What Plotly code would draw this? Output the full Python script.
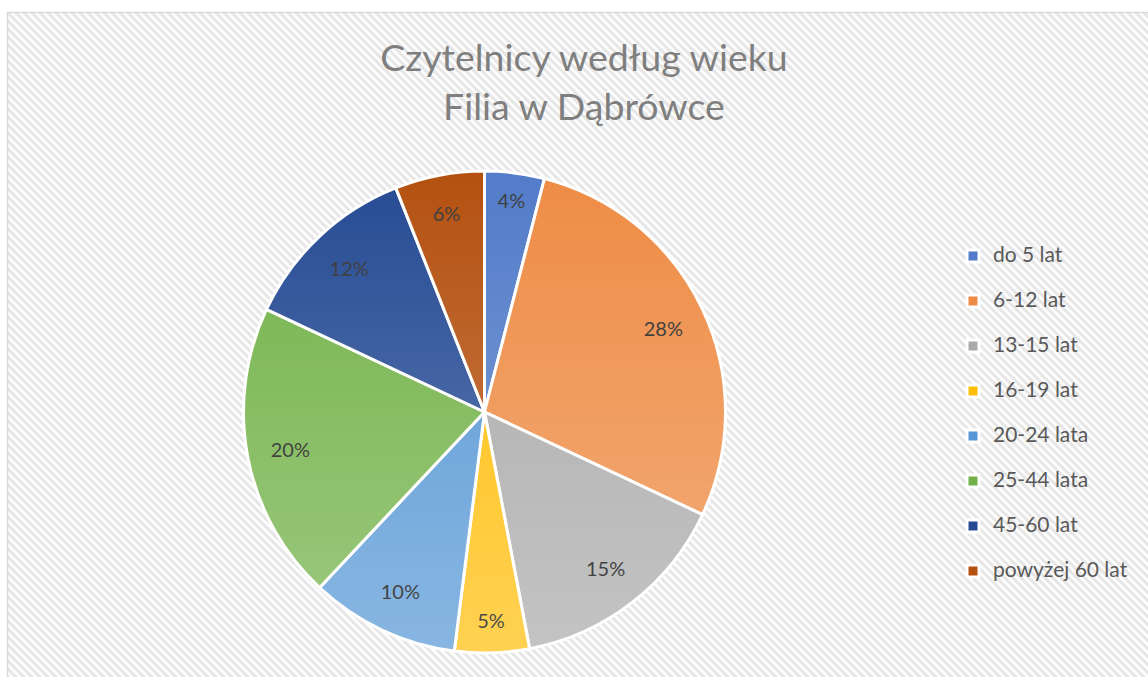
import base64
import plotly.graph_objects as go

# ---- data ----
categories = ["do 5 lat", "6-12 lat", "13-15 lat", "16-19 lat",
              "20-24 lata", "25-44 lata", "45-60 lat", "powyżej 60 lat"]
shares = [4, 28, 15, 5, 10, 20, 12, 6]
title_lines = ["Czytelnicy według wieku", "Filia w Dąbrówce"]

# ---- styles ----
slice_colors = ["#527CC9", "#EE8C45", "#AAAAAA", "#FFBE08",
                "#5697D5", "#72B248", "#264B94", "#B45110"]
# label colours, darkened where the light gradient overlay lies on them
label_colors = ["#3C3C3C", "#2B2B2B", "#020202", "#000000",
                "#000000", "#181818", "#343434", "#3B3B3B"]

W, H = 1148, 677

# legend labels (larger text, extra empty line for item spacing)
legend_labels = ['<span style="font-size:21px">%s</span><br> ' % c for c in categories]


def svg_uri(svg):
    return "data:image/svg+xml;base64," + base64.b64encode(svg.encode()).decode()


# hatched chart-area background
bw, bh = W - 8, H - 13
hatch = svg_uri(
    f'<svg xmlns="http://www.w3.org/2000/svg" width="{bw}" height="{bh}" viewBox="0 0 {bw} {bh}">'
    '<defs><pattern id="p" width="8" height="8" patternUnits="userSpaceOnUse">'
    '<rect width="8" height="8" fill="#ffffff"/>'
    '<path d="M-2,-2 L10,10 M-2,6 L2,10 M6,-2 L10,2" stroke="#e7e7e7" stroke-width="3.2"/>'
    '</pattern></defs>'
    f'<rect width="{bw}" height="{bh}" fill="url(#p)"/></svg>'
)

# pie placement (paper fractions)
px0, px1, py_top, py_bot = 243, 726, 171, 653
dom_x = [px0 / W, px1 / W]
dom_y = [1 - py_bot / H, 1 - py_top / H]

# soft vertical light gradient laid over the pie disc
gw, gh = px1 - px0, py_bot - py_top
shade = svg_uri(
    f'<svg xmlns="http://www.w3.org/2000/svg" width="{gw}" height="{gh}" viewBox="0 0 {gw} {gh}">'
    '<defs><linearGradient id="g" x1="0" y1="0" x2="0" y2="1">'
    '<stop offset="0" stop-color="#ffffff" stop-opacity="0"/>'
    '<stop offset="1" stop-color="#ffffff" stop-opacity="0.3"/>'
    '</linearGradient></defs>'
    f'<circle cx="{gw / 2}" cy="{gh / 2}" r="{min(gw, gh) / 2 - 0.5}" fill="url(#g)"/></svg>'
)

fig = go.Figure()
fig.add_trace(go.Pie(
    labels=legend_labels, values=shares, sort=False, direction="clockwise",
    rotation=0, domain=dict(x=dom_x, y=dom_y),
    marker=dict(colors=slice_colors, line=dict(color="#ffffff", width=3)),
    textinfo="none", hoverinfo="skip", showlegend=True,
))
fig.add_trace(go.Pie(
    labels=categories, values=shares, sort=False, direction="clockwise",
    rotation=0, domain=dict(x=dom_x, y=dom_y), hole=0.64,
    marker=dict(colors=["rgba(0,0,0,0)"] * len(shares), line=dict(width=0)),
    textinfo="percent", textposition="inside", insidetextorientation="horizontal",
    textfont=dict(family="Lato", size=20, color=label_colors),
    hoverinfo="label+percent", showlegend=False,
))

fig.update_layout(
    width=W, height=H,
    margin=dict(l=0, r=0, t=0, b=0),
    paper_bgcolor="#ffffff",
    font=dict(family="Lato", color="#595959"),
    title=dict(text="<br>".join(title_lines), x=584 / W, xanchor="center",
               y=1 - 71 / H, yanchor="top", yref="container",
               font=dict(family="Lato", size=37.5, color="#7f7f7f")),
    legend=dict(x=953 / W, xanchor="left", y=1 - 239 / H, yanchor="top",
                bgcolor="rgba(0,0,0,0)", valign="top",
                font=dict(family="Lato", size=16.15, color="#595959")),
    uniformtext=dict(minsize=20, mode="show"),
    images=[
        dict(source=hatch, xref="paper", yref="paper",
             x=8 / W, y=1 - 13 / H, sizex=bw / W, sizey=bh / H,
             xanchor="left", yanchor="top", sizing="stretch", layer="below"),
        dict(source=shade, xref="paper", yref="paper",
             x=px0 / W, y=1 - py_top / H, sizex=gw / W, sizey=gh / H,
             xanchor="left", yanchor="top", sizing="stretch", layer="above"),
    ],
    shapes=[dict(type="rect", xref="paper", yref="paper",
                 x0=7.5 / W, x1=1.02, y0=-0.02, y1=1 - 12.5 / H,
                 line=dict(color="#d9d9d9", width=1.5), layer="below")],
)

fig.write_html("out.html", config={"displayModeBar": False},
               post_script="document.body.style.margin='0';document.body.style.overflow='hidden';")
